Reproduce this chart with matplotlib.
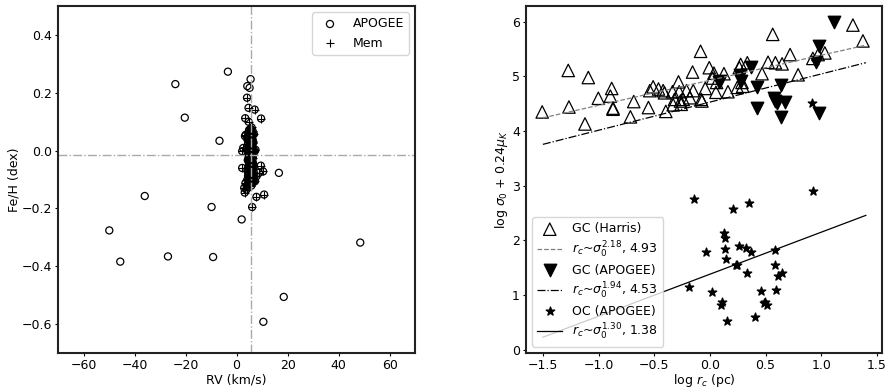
import matplotlib
matplotlib.use("Agg")
import matplotlib.pyplot as plt
import numpy as np

# ---- left panel: RV vs [Fe/H] ----
nonmem_rv = [-3.4, -24.0, -20.3, -6.7, -36.0, -9.8, 2.0, -49.9, -45.6, -26.9,
             -9.2, 48.5, 18.5, 10.5, 16.6, 5.5, 4.2, 5.1]
nonmem_feh = [0.273, 0.230, 0.114, 0.034, -0.157, -0.195, -0.238, -0.276, -0.384, -0.366,
              -0.368, -0.318, -0.506, -0.592, -0.077, 0.247, 0.223, 0.217]

mem_rv = [4.1, 4.7, 7.1, 3.4, 9.6, 4.7,
          2.6, 2.2, 7.4, 2.2, 9.5, 10.4, 8.8, 7.8, 7.2, 3.5, 3.0, 3.9, 7.8, 10.8, 6.1, 3.2,
          5.0, 5.6, 5.2, 5.8, 4.6, 6.3, 5.0, 5.5, 4.3, 6.0, 5.3, 4.8, 5.9, 6.5, 5.1, 4.5,
          5.6, 6.2, 4.9, 5.4, 4.2, 6.7, 5.7, 5.0, 4.6, 6.1, 5.3, 4.8, 5.9, 6.4, 5.1, 4.4,
          5.6, 6.0, 4.9, 5.4, 6.6, 4.7, 5.8, 5.2, 4.3, 6.2, 5.5, 4.9, 5.0, 6.0, 4.5, 5.6,
          5.1, 4.2, 6.4, 5.3, 4.6, 5.8, 4.0, 3.6, 3.3, 6.9,
          5.9, 6.3, 5.4, 6.8, 5.7, 6.1, 5.2, 6.5, 5.8, 4.8, 6.2, 5.5, 6.9, 5.3, 6.0,
          5.6, 4.7, 6.4, 5.9, 5.1, 6.6, 5.7, 4.4, 6.1, 5.4, 6.3, 5.0, 5.8, 6.7, 5.5,
          4.9, 6.2, 5.6, 4.3, 6.0, 5.2, 6.5, 5.7, 4.6, 6.1, 5.9, 5.3, 6.8, 5.4, 4.8]
mem_feh = [0.183, 0.148, 0.142, 0.112, 0.111, 0.100,
           0.009, -0.002, 0.003, -0.060, -0.052, -0.072, -0.077, -0.089, -0.106, -0.112,
           -0.129, -0.135, -0.160, -0.152, -0.195, -0.145,
           0.072, 0.075, 0.065, 0.062, 0.058, 0.055, 0.052, 0.048, 0.045, 0.043, 0.040,
           0.036, 0.033, 0.030, 0.027, 0.024, 0.020, 0.017, 0.014, 0.010, 0.006, 0.004,
           0.000, -0.004, -0.008, -0.011, -0.015, -0.019, -0.022, -0.026, -0.030, -0.033,
           -0.037, -0.040, -0.044, -0.047, -0.050, -0.054, -0.057, -0.061, -0.064, -0.068,
           -0.071, -0.075, -0.080, -0.084, -0.088, -0.092, -0.097, -0.101, -0.105, -0.110,
           -0.116, -0.121, -0.125, 0.055, 0.050, -0.090,
           0.080, 0.068, 0.063, 0.057, 0.049, 0.041, 0.035, 0.028, 0.021, 0.015, 0.008,
           0.002, -0.006, -0.013, -0.020, -0.027, -0.035, -0.042, -0.048, -0.055, -0.060,
           -0.066, -0.073, -0.079, -0.086, -0.094, -0.099, -0.103, -0.108, -0.113, 0.070,
           0.059, 0.046, 0.038, 0.025, 0.012, -0.001, -0.017, -0.029, -0.039, -0.052,
           -0.063, -0.077, -0.095, -0.082]

rv_mean = 5.6
feh_mean = -0.015

# ---- right panel: log r_c vs log sigma_0 + 0.24 mu_K ----
harris_x = [-1.506, -1.272, -1.266, -1.122, -1.092, -1.002, -0.894, -0.882, -0.87, -0.87,
            -0.714, -0.684, -0.552, -0.54, -0.51, -0.462, -0.42, -0.408, -0.396, -0.336,
            -0.33, -0.282, -0.276, -0.264, -0.258, -0.24, -0.21, -0.18, -0.156, -0.15,
            -0.084, -0.078, -0.072, -0.042, -0.006, 0.024, 0.036, 0.054, 0.06, 0.126,
            0.162, 0.246, 0.264, 0.276, 0.288, 0.294, 0.336, 0.468, 0.522, 0.564,
            0.588, 0.648, 0.72, 0.792, 0.924, 0.972, 1.032, 1.284, 1.374, -0.318]
harris_y = [4.35, 5.11, 4.44, 4.13, 4.98, 4.60, 4.64, 4.78, 4.42, 4.40,
            4.26, 4.54, 4.43, 4.74, 4.81, 4.77, 4.74, 4.70, 4.36, 4.72,
            4.48, 4.90, 4.72, 4.55, 4.49, 4.58, 4.74, 4.61, 5.08, 4.74,
            5.46, 4.58, 4.55, 4.78, 5.16, 4.97, 5.06, 4.71, 4.89, 5.05,
            4.72, 4.80, 5.16, 5.22, 4.89, 4.82, 5.25, 5.05, 5.26, 5.77,
            5.25, 5.23, 5.40, 5.03, 5.33, 5.40, 5.43, 5.94, 5.65, 4.58]

gc_apo_x = [1.116, 0.978, 0.954, 0.981, 0.366, 0.078, 0.09, 0.27, 0.276, 0.42,
            0.426, 0.636, 0.576, 0.588, 0.60, 0.678, 0.636]
gc_apo_y = [6.00, 5.56, 5.26, 4.33, 5.17, 4.89, 4.92, 5.03, 4.91, 4.80,
            4.43, 4.85, 4.60, 4.55, 4.52, 4.54, 4.25]

oc_x = [-0.144, 0.21, 0.354, 0.93, 0.918, 0.129, 0.138, -0.036, 0.138, 0.258,
        0.324, 0.372, 0.144, 0.234, 0.246, 0.582, 0.588, 0.648, 0.612, 0.33,
        -0.192, 0.018, 0.108, 0.096, 0.456, 0.594, 0.492, 0.51, 0.486, 0.15, 0.408]
oc_y = [2.76, 2.57, 2.69, 2.91, 4.52, 2.14, 2.05, 1.78, 1.84, 1.89,
        1.86, 1.78, 1.65, 1.55, 1.54, 1.83, 1.54, 1.40, 1.35, 1.41,
        1.15, 1.05, 0.88, 0.82, 1.07, 1.10, 0.88, 0.82, 0.85, 0.53, 0.59]

# fits: r_c ~ sigma_0^power, intercept
fit_power = [2.18, 1.94, 1.30]
fit_icpt = [4.93, 4.53, 1.38]
fit_xrange = [-1.5, 1.4]

plt.rcParams['font.size'] = 9
plt.rcParams['xtick.major.size'] = 2.5
plt.rcParams['ytick.major.size'] = 2.5
plt.rcParams['xtick.major.pad'] = 2
plt.rcParams['ytick.major.pad'] = 2
plt.rcParams['axes.labelpad'] = 1

fig = plt.figure(figsize=(8.86, 3.89), dpi=100)
ax1 = fig.add_axes([0.0655, 0.0925, 0.403, 0.892])
ax2 = fig.add_axes([0.5937, 0.0925, 0.4018, 0.892])

all_rv = nonmem_rv + mem_rv
all_feh = nonmem_feh + mem_feh
ax1.scatter(all_rv, all_feh, s=26, facecolors='none', edgecolors='k', linewidths=0.9,
            label='APOGEE')
ax1.scatter(mem_rv, mem_feh, s=26, marker='+', c='k', linewidths=0.8, label='Mem')
ax1.axvline(rv_mean, color='darkgray', ls='-.', lw=1)
ax1.axhline(feh_mean, color='darkgray', ls='-.', lw=1)
ax1.set_xlim(-70, 70)
ax1.set_ylim(-0.7, 0.5)
ax1.set_xticks([-60, -40, -20, 0, 20, 40, 60])
ax1.set_yticks([-0.6, -0.4, -0.2, 0.0, 0.2, 0.4])
ax1.set_xlabel('RV (km/s)')
ax1.set_ylabel('Fe/H (dex)')
ax1.legend(loc='upper right')

ax2.scatter(harris_x, harris_y, s=80, marker='^', facecolors='none', edgecolors='k',
            linewidths=0.9, label='GC (Harris)')
xs = np.array(fit_xrange)
ax2.plot(xs, xs / fit_power[0] + fit_icpt[0], color='gray', ls='--', lw=0.9,
         label=r'$r_c$~$\sigma_0^{%.2f}$, %.2f' % (fit_power[0], fit_icpt[0]))
ax2.scatter(gc_apo_x, gc_apo_y, s=80, marker='v', c='k', label='GC (APOGEE)')
ax2.plot(xs, xs / fit_power[1] + fit_icpt[1], color='k', ls='-.', lw=0.9,
         label=r'$r_c$~$\sigma_0^{%.2f}$, %.2f' % (fit_power[1], fit_icpt[1]))
ax2.scatter(oc_x, oc_y, s=40, marker='*', c='k', label='OC (APOGEE)')
ax2.plot(xs, xs / fit_power[2] + fit_icpt[2], color='k', ls='-', lw=0.9,
         label=r'$r_c$~$\sigma_0^{%.2f}$, %.2f' % (fit_power[2], fit_icpt[2]))
ax2.set_xticks([-1.5, -1.0, -0.5, 0.0, 0.5, 1.0, 1.5])
ax2.set_xlabel(r'log $r_c$ (pc)', labelpad=0)
ax2.set_ylabel(r'log $\sigma_0$ + 0.24$\mu_K$')
ax2.legend(loc='lower left', labelspacing=0.32)

for ax in (ax1, ax2):
    for sp in ax.spines.values():
        sp.set_linewidth(1.5)
        sp.set_color('#222222')

fig.savefig('out.png', dpi=100)
